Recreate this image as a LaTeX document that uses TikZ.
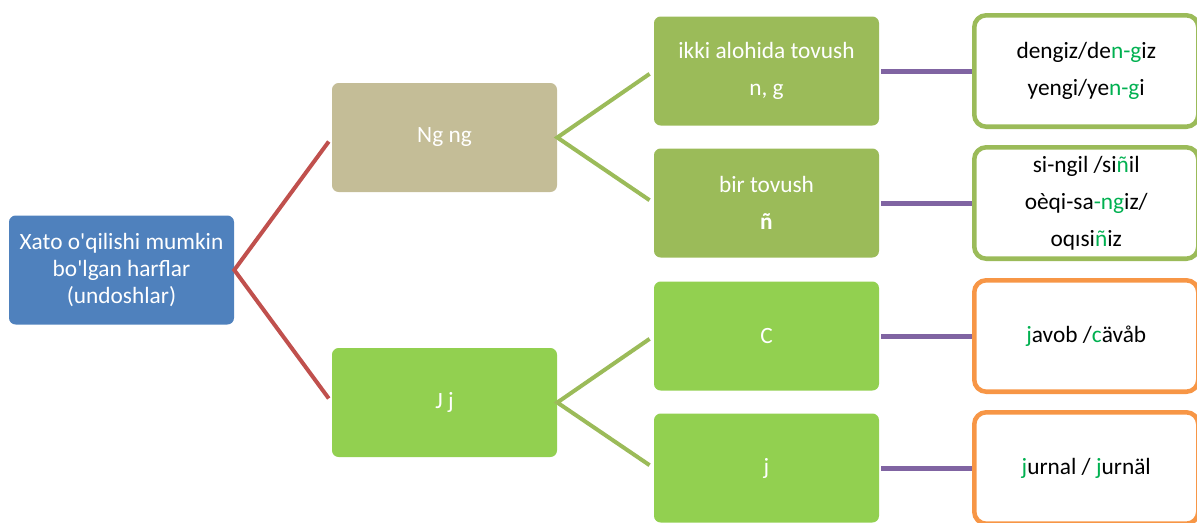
\documentclass[tikz,border=0pt]{standalone}
\usepackage{fontspec}
\setmainfont{Carlito}[Ligatures=TeXOff]
\definecolor{cblue}{HTML}{4F81BD}
\definecolor{ckhaki}{HTML}{C4BD97}
\definecolor{colive}{HTML}{9BBB59}
\definecolor{clime}{HTML}{92D050}
\definecolor{cred}{HTML}{C0504D}
\definecolor{corange}{HTML}{F79646}
\definecolor{cpurple}{HTML}{8064A2}
\definecolor{cmark}{HTML}{00B050}
\newcommand{\hlg}[1]{\textcolor{cmark}{#1}}

\begin{document}
\begin{tikzpicture}[x=0.75pt, y=-0.75pt, font=\fontsize{17.5}{27.75}\selectfont,
  card/.style={rounded corners=5pt, minimum width=168.75pt, minimum height=81.75pt, inner sep=0pt, text=white, align=center},
  sample/.style={draw=#1, line width=3.4pt, rounded corners=9pt, minimum width=168pt, minimum height=83.6pt, inner sep=0pt, align=center, anchor=west},
  branch/.style={draw=#1, line width=3pt, shorten >=3.75pt, shorten <=3.75pt}]
  \useasboundingbox (0,0) rectangle (1197,522);
  % root and the two letters
  \node[card, fill=cblue, font=\fontsize{17.5}{20}\selectfont] (root) at (121.5,270) {Xato o'qilishi mumkin\\bo'lgan harflar\\(undoshlar)};
  \node[card, fill=ckhaki] (ng) at (444.5,137.5) {Ng ng};
  \node[card, fill=clime] (jj) at (444.5,402.5) {J j};
  % how each letter is read
  \node[card, fill=colive] (s1) at (766.5,71) {ikki alohida tovush\\n, g};
  \node[card, fill=colive] (s2) at (766.5,203) {bir tovush\\\textbf{ñ}};
  \node[card, fill=clime] (s3) at (766.5,336) {C};
  \node[card, fill=clime] (s4) at (766.5,468) {j};
  % examples
  \node[sample=colive] (ex1) at (972,71) {dengiz/de\hlg{n-g}iz\\yengi/ye\hlg{n-g}i};
  \node[sample=colive] (ex2) at (972,203) {si-ngil /si\hlg{ñ}il\\oèqi-sa\hlg{-ng}iz/\\oqısi\hlg{ñ}iz};
  \node[sample=corange] (ex3) at (972,336) {\hlg{j}avob /\hlg{c}ävåb};
  \node[sample=corange] (ex4) at (972,468) {\hlg{j}urnal / \hlg{j}urnäl};
  % connectors
  \draw[branch=cred] (ng.west) -- (root.east) -- (jj.west);
  \draw[branch=colive] (s1.west) -- (ng.east) -- (s2.west);
  \draw[branch=colive] (s3.west) -- (jj.east) -- (s4.west);
  \foreach \i in {1,...,4} \draw[cpurple, line width=3.75pt, shorten <=1.5pt] (s\i.east) -- (ex\i.west);
\end{tikzpicture}
\end{document}
